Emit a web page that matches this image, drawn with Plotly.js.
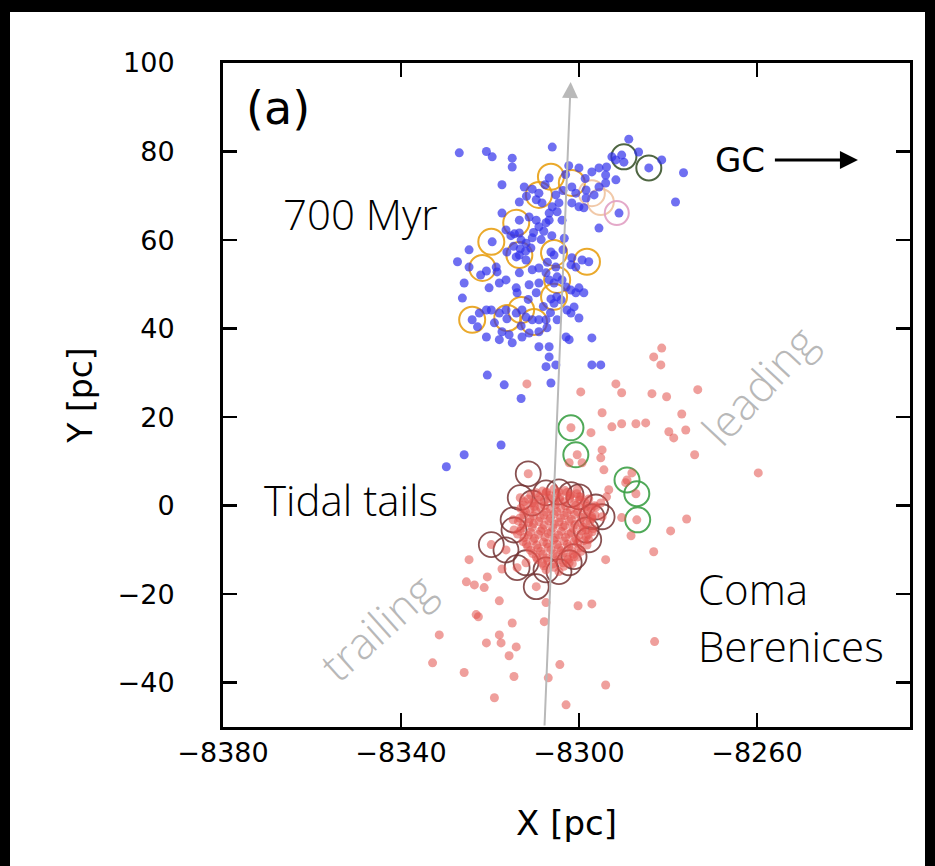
<!DOCTYPE html>
<html>
<head>
<meta charset="utf-8">
<script src="https://cdn.plot.ly/plotly-3.0.1.min.js"></script>
<style>
  html, body { margin: 0; padding: 0; background: #000; width: 935px; height: 866px; overflow: hidden; }
  #chart { position: absolute; left: 10px; top: 12px; width: 915px; height: 854px; background: #fff; }
</style>
</head>
<body>
<div id="chart"></div>
<script>
// 700 Myr group members (blue)
const blueX = [-8326.9,-8320.8,-8319.5,-8315.0,-8315.0,-8306.0,-8288.8,-8290.4,-8291.7,-8289.9,-8292.6,-8286.6,-8284.3,-8281.4,-8276.5,-8278.3,
  -8317.3,-8312.3,-8306.7,-8300.0,-8297.1,-8295.5,-8293.8,-8294.0,-8291.7,-8301.6,-8300.7,-8298.4,-8296.6,-8295.5,-8294.0,
  -8309.6,-8309.0,-8308.3,-8305.2,-8304.5,-8306.0,-8306.7,-8304.9,-8301.6,-8300.0,-8298.9,-8298.4,-8291.0,-8313.4,-8317.3,
  -8313.4,-8311.2,-8309.6,-8309.0,-8307.4,-8306.7,-8303.8,-8295.5,-8319.5,-8316.4,-8315.3,-8314.5,-8313.4,-8313.0,-8311.9,
  -8314.7,-8313.2,-8312.0,-8310.8,-8310.5,-8324.7,-8327.3,-8324.7,-8322.1,-8320.8,-8318.6,-8318.4,-8316.2,-8314.1,-8311.9,
  -8313.4,-8325.8,-8320.2,-8317.9,-8316.4,-8313.4,-8310.5,-8309.0,-8307.4,-8305.2,-8306.3,-8305.6,-8301.6,-8301.8,-8300.7,
  -8299.3,-8297.8,-8314.1,-8313.9,-8311.2,-8309.0,-8309.6,-8306.7,-8305.6,-8304.9,-8303.8,-8302.9,-8305.0,-8304.0,-8306.3,
  -8305.6,-8301.8,-8300.7,-8300.0,-8298.9,-8301.1,-8302.7,-8301.8,-8320.8,-8319.7,-8322.4,-8324.0,-8322.8,-8317.9,-8316.4,
  -8314.1,-8312.8,-8311.9,-8310.5,-8309.0,-8307.4,-8316.2,-8317.3,-8315.7,-8317.9,-8315.0,-8312.8,-8311.2,-8309.0,-8307.2,
  -8304.9,-8320.8,-8300.0,-8302.9,-8302.2,-8297.1,-8309.0,-8306.7,-8306.7,-8305.2,-8307.4,-8297.1,-8295.1,-8320.6,-8316.8,
  -8306.3,-8313.0,-8317.5,-8325.8,-8329.8,
  -8310.5,-8311.8,-8307.6,-8303.0,-8302.3,-8298.6,-8303.6,-8307.9,-8310.2,-8308.5,-8306.1,-8303.3,-8307.1,-8303.6,-8311.4,
  -8308.0,-8306.4,-8313.0,-8319.0,-8326.2];
const blueY = [79.7,80.0,78.8,78.5,76.5,81.0,82.8,79.2,78.1,77.6,78.8,79.9,76.3,78.1,75.2,68.6,
  72.5,72.0,74.0,76.3,75.4,76.3,76.5,74.7,73.6,72.0,70.6,71.3,70.2,72.0,72.9,
  69.1,70.6,68.4,70.2,68.4,67.5,66.1,66.4,68.4,67.5,67.3,69.5,66.1,68.6,66.1,
  64.5,65.2,64.5,63.0,63.9,64.5,64.5,62.7,59.6,62.3,61.0,61.4,61.6,60.0,59.3,
  58.6,58.0,57.5,58.2,60.5,57.8,55.1,53.9,52.1,53.0,53.9,52.8,57.3,56.2,55.5,
  56.6,50.3,49.2,50.3,51.0,52.6,53.3,53.7,52.6,53.9,57.3,56.6,56.0,54.4,53.9,
  55.5,55.1,49.2,48.1,49.9,50.3,48.1,51.0,50.3,51.7,51.0,49.4,47.2,46.5,46.7,
  45.7,48.7,48.1,49.2,48.1,44.9,44.2,43.5,44.2,44.2,43.5,42.0,40.4,43.5,44.2,
  43.5,44.2,42.6,42.0,42.0,42.0,42.2,39.3,38.6,37.5,36.8,38.1,39.0,39.3,40.2,
  42.0,38.1,42.4,38.1,37.5,37.9,35.9,35.9,33.6,31.8,31.4,31.8,31.8,29.5,27.3,
  27.7,24.2,13.7,11.5,8.8,
  71.5,69.9,72.5,74.8,76.8,73.9,71.2,62.0,61.7,60.1,61.0,60.4,55.0,57.8,46.6,
  45.0,43.6,40.6,41.3,46.9];

// Coma Berenices members and tidal tails (red)
const redX = [-8311.7,-8299.6,-8291.7,-8290.4,-8283.6,-8280.3,-8273.3,-8294.8,-8292.6,-8290.4,-8287.2,-8285.0,-8276.9,-8279.8,
  -8278.7,-8276.0,-8301.8,-8297.3,-8300.4,-8302.2,-8299.3,-8294.8,-8295.1,-8294.4,-8274.0,-8259.7,-8288.1,-8289.5,-8287.2,
  -8287.0,-8293.3,-8293.8,-8295.1,-8290.4,-8288.3,-8275.8,-8279.4,-8283.2,-8294.0,-8281.4,-8283.2,-8281.6,-8283.0,-8294.0,
  -8324.7,-8325.3,-8323.5,-8321.3,-8320.6,-8317.3,-8317.9,-8323.1,-8322.6,-8315.0,-8331.4,-8317.9,-8317.5,-8320.8,-8314.1,
  -8315.7,-8307.8,-8307.4,-8300.2,-8297.1,-8332.9,-8325.8,-8314.6,-8306.9,-8304.3,-8319.0,-8302.9,-8289.2,
  -8311.4,-8313.2,-8314.8,-8319.7,-8313.9,-8309.6,-8304.5,-8301.1,-8297.8,-8294.8,-8296.2,-8300.0,-8304.5,-8307.4,-8310.5,
  -8314.6,-8316.4,-8311.9,-8307.4,-8302.2,-8298.4,-8297.1,-8301.8,
  -8308.2,-8305.6,-8303.1,-8300.4,
  -8310.8,-8308.9,-8306.7,-8304.3,-8302.0,-8299.6,
  -8312.3,-8310.1,-8307.8,-8305.5,-8303.2,-8301.0,-8298.7,
  -8313.1,-8311.0,-8308.6,-8306.4,-8304.1,-8301.9,-8299.5,-8297.3,
  -8312.4,-8310.2,-8307.9,-8305.6,-8303.3,-8301.0,-8298.6,-8296.4,
  -8313.6,-8311.3,-8309.0,-8306.8,-8304.5,-8302.2,-8299.8,-8297.5,
  -8312.9,-8310.5,-8308.2,-8305.9,-8303.6,-8301.3,-8299.0,-8296.8,
  -8313.8,-8311.4,-8309.1,-8306.9,-8304.6,-8302.3,-8300.0,-8297.9,
  -8312.6,-8310.3,-8308.0,-8305.7,-8303.4,-8301.1,-8298.9,
  -8311.5,-8309.2,-8306.9,-8304.6,-8302.3,-8300.0,
  -8310.4,-8308.1,-8305.8,-8303.5,-8301.3,
  -8309.3,-8307.0,-8304.7,-8302.4,
  -8307.9,-8305.6,-8303.4,
  -8309.6,-8307.3,-8305.0,-8302.7,-8300.5,
  -8311.4,-8309.0,-8306.6,-8304.4,-8302.1,-8299.8,-8297.8,
  -8312.4,-8310.0,-8307.7,-8305.3,-8303.0,-8300.7,-8298.4,-8296.5,
  -8312.0,-8309.7,-8307.3,-8305.0,-8302.7,-8300.3,-8298.0,
  -8313.3,-8311.0,-8308.7,-8306.4,-8304.1,-8301.7,-8299.4,-8297.1,
  -8312.5,-8310.2,-8307.8,-8305.5,-8303.2,-8300.9,-8298.5,
  -8313.2,-8310.9,-8308.6,-8306.3,-8304.0,-8301.7,-8299.4,-8297.0,
  -8312.3,-8310.0,-8307.6,-8305.3,-8303.0,-8300.7,-8298.4,
  -8311.8,-8309.5,-8307.2,-8304.9,-8302.6,-8300.3,-8298.2,
  -8310.9,-8308.6,-8306.3,-8304.0,-8301.7,-8299.5,
  -8309.6,-8307.3,-8305.0,-8302.7,-8300.4,
  -8308.2,-8305.9,-8303.6,-8301.5];
const redY = [27.5,25.7,27.5,25.5,25.3,24.6,26.2,21.0,17.8,18.5,18.5,18.7,20.7,16.7,
  15.3,17.1,17.6,16.5,11.5,9.7,9.7,12.6,10.8,8.1,11.5,7.4,7.4,5.2,2.7,
  -3.2,3.6,2.0,0.6,-2.7,-6.8,-3.0,-5.7,-10.4,-12.2,35.6,33.6,31.8,-30.7,-40.5,
  -12.2,-17.2,-17.9,-18.5,-16.1,-14.3,-21.5,-24.6,-25.1,-26.5,-29.2,-29.2,-31.0,-31.0,-31.9,
  -33.9,-26.2,-21.9,-22.6,-22.2,-35.5,-37.7,-38.6,-38.9,-35.9,-43.4,-45.0,5.8,
  7.2,1.8,-3.2,-8.8,-14.0,-18.3,-14.9,-11.5,-7.7,-2.5,-0.3,2.0,3.1,2.9,0.6,
  -5.5,-10.0,-12.9,-14.5,-12.9,-5.5,-2.5,2.5,
  3.3,3.8,3.4,3.6,
  2.4,2.0,2.3,1.9,2.2,2.0,
  0.9,0.6,1.0,0.7,0.9,0.5,0.8,
  -0.6,-0.9,-0.5,-0.8,-0.6,-0.9,-0.5,-0.7,
  -2.0,-2.3,-2.1,-1.9,-2.2,-2.0,-2.3,-2.1,
  -3.5,-3.8,-3.6,-3.4,-3.7,-3.5,-3.8,-3.6,
  -5.1,-4.9,-5.2,-5.0,-4.8,-5.1,-4.9,-5.2,
  -6.4,-6.7,-6.5,-6.3,-6.6,-6.4,-6.7,-6.5,
  -8.1,-7.9,-8.2,-7.8,-8.0,-8.1,-7.9,
  -9.3,-9.6,-9.4,-9.5,-9.3,-9.6,
  -10.8,-11.0,-10.9,-10.7,-11.0,
  -12.2,-12.5,-12.3,-12.1,
  -13.6,-13.9,-13.7,
  2.9,3.1,2.8,3.0,2.7,
  1.5,1.3,1.6,1.4,1.6,1.3,1.5,
  0.1,-0.2,0.0,0.2,-0.1,0.1,-0.2,0.0,
  -1.4,-1.2,-1.5,-1.3,-1.6,-1.4,-1.2,
  -2.8,-3.0,-2.7,-2.9,-2.8,-3.1,-2.7,-2.9,
  -4.3,-4.1,-4.4,-4.2,-4.5,-4.3,-4.1,
  -5.8,-6.0,-5.7,-5.9,-5.8,-6.1,-5.7,-5.9,
  -7.2,-7.4,-7.1,-7.3,-7.2,-7.5,-7.1,
  -8.7,-8.9,-8.6,-8.8,-8.7,-8.5,-8.9,
  -10.1,-10.3,-10.0,-10.2,-10.1,-10.3,
  -11.6,-11.8,-11.5,-11.7,-11.6,
  -13.0,-13.2,-12.9,-13.1];

// highlighted members (open rings)
const orangeX = [-8306.3,-8301.6,-8309.0,-8314.1,-8319.7,-8313.4,-8305.6,-8298.2,-8321.7,-8304.9,-8305.6,-8324.0,-8316.1,-8313.0,-8310.1];
const orangeY = [74.3,72.9,70.2,63.9,59.6,56.6,57.1,55.1,53.7,51.0,47.2,42.0,42.4,44.2,41.5];
const paleX = [-8297.1,-8295.1];
const paleY = [70.6,68.6];
const pinkX = [-8291.5];
const pinkY = [66.1];
const oliveX = [-8289.9,-8284.3];
const oliveY = [78.8,76.3];
const brownX = [-8311.4,-8313.2,-8314.8,-8319.7,-8313.9,-8309.6,-8304.5,-8301.1,-8297.8,-8294.8,-8296.2,-8300.0,-8304.5,
  -8307.4,-8310.5,-8314.6,-8316.4,-8311.9,-8307.4,-8302.2,-8298.4,-8297.1,-8301.8];
const brownY = [7.2,1.8,-3.2,-8.8,-14.0,-18.3,-14.9,-11.5,-7.7,-2.5,-0.3,2.0,3.1,2.9,0.6,-5.5,-10.0,-12.9,-14.5,-12.9,-5.5,-2.5,2.5];
const greenX = [-8301.8,-8300.7,-8289.2,-8287.0,-8286.8];
const greenY = [17.6,11.5,5.8,2.7,-3.2];

// axis ticks
const xTicks = [-8380,-8340,-8300,-8260];
const yTicks = [-40,-20,0,20,40,60,80,100];

function ring(x, y, color, size, width) {
  return {x: x, y: y, type: 'scatter', mode: 'markers', hoverinfo: 'skip',
    marker: {symbol: 'circle-open', size: size, color: color, line: {width: width, color: color}}};
}
function dots(x, y, color) {
  return {x: x, y: y, type: 'scatter', mode: 'markers', hoverinfo: 'skip',
    marker: {symbol: 'circle', size: 9, color: color, line: {width: 0}}};
}

const traces = [
  ring(orangeX, orangeY, 'rgba(232,160,20,0.9)', 26, 2),
  ring(paleX, paleY, 'rgba(240,195,160,0.9)', 26, 2),
  ring(pinkX, pinkY, 'rgba(225,160,195,0.9)', 24, 2),
  ring(oliveX, oliveY, 'rgba(60,85,45,0.9)', 25, 2),
  ring(brownX, brownY, 'rgba(115,50,50,0.85)', 25, 1.8),
  ring(greenX, greenY, 'rgba(60,160,70,0.9)', 25, 2),
  dots(blueX, blueY, 'rgba(50,50,235,0.7)'),
  dots(redX, redY, 'rgba(225,80,75,0.55)')
];

const textFont = {family: 'Open Sans', size: 42, color: '#000', weight: 300};
const grayFont = {family: 'Open Sans', size: 44, color: '#b8b8b8', weight: 300};

const layout = {
  width: 915, height: 854,
  margin: {l: 213, r: 15, t: 51, b: 139},
  paper_bgcolor: '#fff', plot_bgcolor: '#fff',
  showlegend: false,
  font: {family: 'DejaVu Sans', color: '#000'},
  xaxis: {
    range: [-8380, -8225.6], tickvals: xTicks, ticks: 'inside', ticklen: 14, tickwidth: 2.5, tickcolor: '#000',
    showline: true, linewidth: 3, linecolor: '#000', mirror: 'ticks', showgrid: false, zeroline: false,
    tickfont: {family: 'DejaVu Sans', size: 27, color: '#000'}, ticklabelstandoff: 0,
    title: {text: 'X [pc]', font: {family: 'DejaVu Sans', size: 34, color: '#000'}, standoff: 44}
  },
  yaxis: {
    range: [-50, 100], tickvals: yTicks, ticks: 'inside', ticklen: 14, tickwidth: 2.5, tickcolor: '#000',
    showline: true, linewidth: 3, linecolor: '#000', mirror: 'ticks', showgrid: false, zeroline: false,
    tickfont: {family: 'DejaVu Sans', size: 27, color: '#000'}, ticklabelstandoff: 40,
    title: {text: 'Y [pc]', font: {family: 'DejaVu Sans', size: 33, color: '#000'}, standoff: 16}
  },
  annotations: [
    // direction of motion
    {x: -8301.86, y: 95.7, ax: -8307.75, ay: -50, xref: 'x', yref: 'y', axref: 'x', ayref: 'y', text: '',
     showarrow: true, arrowhead: 2, arrowsize: 1.6, arrowwidth: 2, arrowcolor: '#b9b9b9'},
    // Galactic centre direction
    {x: -8237.3, y: 78.1, ax: -8256.3, ay: 78.1, xref: 'x', yref: 'y', axref: 'x', ayref: 'y', text: '',
     showarrow: true, arrowhead: 2, arrowsize: 1.2, arrowwidth: 3, arrowcolor: '#000'},
    {x: -8263.8, y: 78.1, xref: 'x', yref: 'y', text: 'GC', showarrow: false,
     font: {family: 'DejaVu Sans', size: 34, color: '#000'}},
    {x: -8367.7, y: 89.9, xref: 'x', yref: 'y', text: '(a)', showarrow: false,
     font: {family: 'DejaVu Sans', size: 46, color: '#000'}},
    {x: -8349.1, y: 66.0, xref: 'x', yref: 'y', text: '700 Myr', showarrow: false, font: textFont},
    {x: -8351.3, y: 1.5, xref: 'x', yref: 'y', text: 'Tidal tails', showarrow: false, font: textFont},
    {x: -8273.8, y: -18.8, xref: 'x', yref: 'y', text: 'Coma', showarrow: false, xanchor: 'left', font: textFont},
    {x: -8273.8, y: -31.5, xref: 'x', yref: 'y', text: 'Berenices', showarrow: false, xanchor: 'left', font: textFont},
    {x: -8259.7, y: 27.3, xref: 'x', yref: 'y', text: 'leading', showarrow: false, textangle: -47, font: grayFont},
    {x: -8345.5, y: -27.4, xref: 'x', yref: 'y', text: 'trailing', showarrow: false, textangle: -42, font: grayFont}
  ]
};

Plotly.newPlot('chart', traces, layout, {staticPlot: true, displayModeBar: false});
</script>
</body>
</html>
